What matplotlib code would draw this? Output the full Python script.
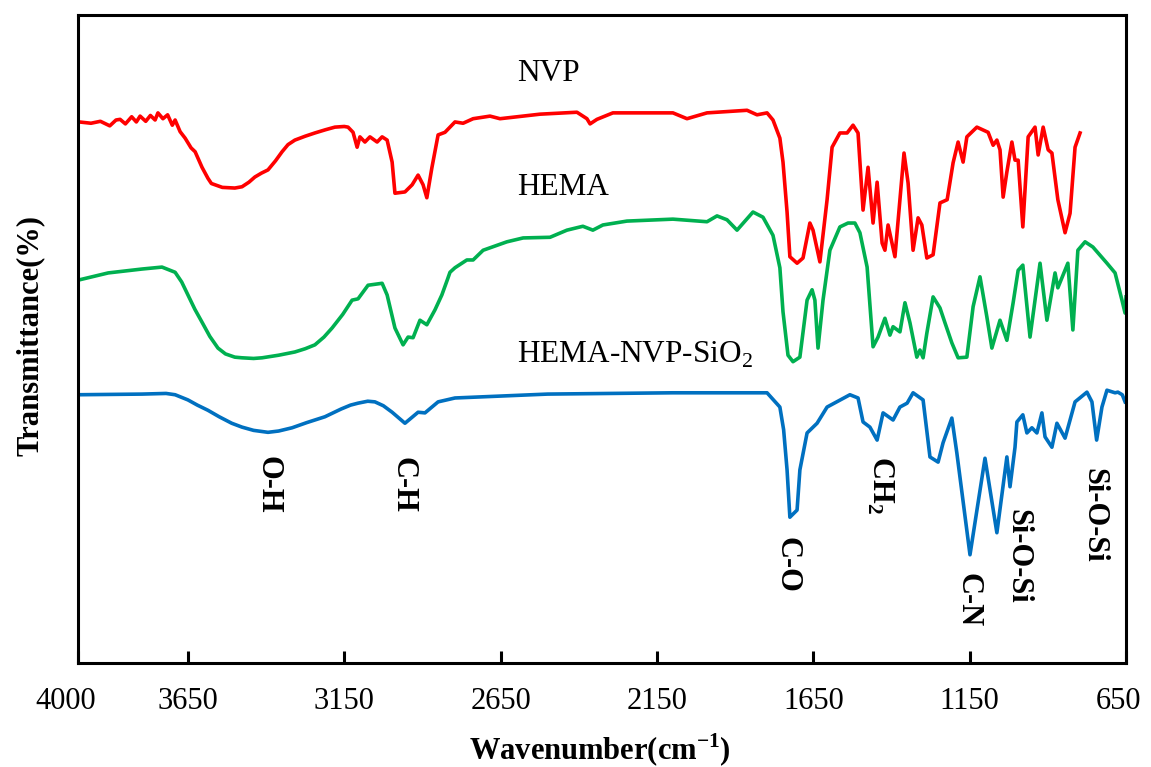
import matplotlib
matplotlib.use("Agg")
import matplotlib.pyplot as plt
import matplotlib.transforms as mtransforms

plt.rcParams['font.family'] = ['Liberation Serif', 'DejaVu Serif']
plt.rcParams['mathtext.fontset'] = 'custom'
plt.rcParams['mathtext.rm'] = 'Liberation Serif'
plt.rcParams['mathtext.bf'] = 'Liberation Serif:bold'
plt.rcParams['xtick.direction'] = 'in'
plt.rcParams['xtick.major.size'] = 9
plt.rcParams['xtick.major.width'] = 2.2
plt.rcParams['xtick.major.pad'] = 17
plt.rcParams['xtick.labelsize'] = 22

# FTIR spectra (wavenumber cm-1, transmittance %)
nvp_wn = [3998, 3960, 3930, 3900, 3880, 3867, 3850, 3830, 3815, 3803, 3785, 3770, 3755, 3746,
          3730, 3715, 3700, 3691, 3675, 3659, 3640, 3627, 3605, 3586, 3575, 3563, 3540, 3500,
          3477, 3455, 3436, 3415, 3394, 3370, 3349, 3330, 3308, 3275, 3244, 3210, 3180, 3150,
          3138, 3122, 3109, 3100, 3084, 3068, 3045, 3029, 3013,
          2997, 2988, 2956, 2933, 2914, 2898, 2886, 2870, 2850, 2828, 2796, 2770, 2738, 2684,
          2652, 2524, 2406, 2374, 2364, 2342, 2291, 2099, 2054, 1990, 1862, 1830, 1798, 1779,
          1757, 1747, 1734, 1725, 1702, 1683, 1661, 1651, 1629, 1606, 1590, 1565, 1542, 1523,
          1507, 1491, 1475, 1459, 1446, 1430, 1421, 1411, 1389, 1373, 1360, 1347, 1331, 1315,
          1303, 1287, 1267, 1245, 1222, 1203, 1187, 1171, 1159, 1127, 1091, 1075, 1063, 1053,
          1043, 1031, 1015, 1005, 995, 980, 963, 941, 931, 915, 899, 887, 868, 845, 829, 813, 797]
nvp_t = [83.5, 83.3, 83.6, 82.9, 83.8, 83.9, 83.2, 84.3, 83.5, 84.4, 83.6, 84.5, 83.8, 84.9,
         84.0, 84.6, 83.0, 83.8, 82.0, 81.0, 79.5, 78.9, 76.5, 74.8, 74.0, 73.8, 73.4, 73.3,
         73.5, 74.2, 75.0, 75.6, 76.1, 77.5, 78.9, 80.0, 80.7, 81.3, 81.8, 82.3, 82.7, 82.8,
         82.7, 81.9, 79.6, 81.2, 80.4, 81.2, 80.4, 81.2, 80.7,
         77.3, 72.5, 72.7, 73.8, 75.3, 73.8, 71.8, 76.4, 81.5, 81.9, 83.5, 83.3, 84.0, 84.4,
         84.0, 84.7, 85.0, 84.0, 83.2, 83.9, 84.9, 84.9, 84.0, 84.9, 85.3, 84.6, 84.9, 83.8,
         81.0, 77.3, 69.6, 62.7, 61.7, 62.5, 67.9, 66.8, 61.9, 71.5, 79.6, 81.8, 81.8, 83.0,
         81.8, 69.9, 76.5, 67.9, 74.2, 64.8, 63.7, 67.6, 62.7, 71.5, 78.7, 74.1, 63.7, 68.7,
         67.6, 62.5, 63.0, 71.0, 71.5, 77.2, 80.4, 77.3, 81.2, 82.7, 81.9, 79.9, 80.7, 79.2,
         71.9, 75.8, 80.4, 77.6, 77.6, 67.3, 81.2, 82.7, 78.4, 82.7, 79.2, 78.7, 71.5, 66.4,
         69.4, 79.6, 81.8]

hema_wn = [4000, 3905, 3797, 3733, 3691, 3670, 3650, 3628, 3605, 3580, 3554, 3530, 3500, 3477,
           3440, 3413, 3360, 3308, 3275, 3244, 3215, 3189, 3155, 3125,
           3106, 3074, 3029, 3013, 2988, 2962, 2946, 2930, 2908, 2886, 2860, 2838, 2820, 2812,
           2796, 2758, 2738, 2706, 2630, 2578, 2492, 2438, 2387, 2355, 2323, 2246, 2099, 1990,
           1958, 1926,
           1894, 1843, 1811, 1779, 1757, 1747, 1731, 1715, 1693, 1670, 1654, 1645, 1635, 1619,
           1597, 1565, 1539, 1517, 1501, 1478, 1459, 1443, 1421, 1405, 1395, 1373, 1357, 1341,
           1319, 1309, 1299, 1287, 1267, 1245, 1229, 1207, 1187, 1159, 1139, 1117, 1095, 1079,
           1053, 1031, 1011, 995, 980, 957, 925, 903, 877, 868, 836, 820, 804, 781, 756, 711,
           685, 663, 653, 650]
hema_t = [59.1, 60.2, 60.8, 61.1, 60.3, 58.8, 56.8, 54.6, 52.6, 50.4, 48.6, 47.7, 47.2, 47.1,
          47.0, 47.1, 47.5, 48.0, 48.5, 49.1, 50.3, 51.7, 53.8, 56.0,
          56.2, 58.3, 58.6, 56.8, 51.7, 49.1, 50.3, 50.2, 52.9, 52.2, 54.5, 56.8, 59.2, 60.3,
          61.0, 62.2, 62.2, 63.7, 65.0, 65.6, 65.7, 66.8, 67.4, 66.8, 67.6, 68.2, 68.5, 68.1,
          69.0, 68.4,
          66.8, 69.6, 68.8, 66.0, 61.0, 54.2, 47.5, 46.5, 47.2, 56.0, 57.6, 56.0, 48.6, 56.0,
          63.7, 67.3, 67.9, 67.9, 66.4, 61.1, 48.8, 50.3, 53.2, 50.6, 51.9, 51.1, 55.6, 52.5,
          47.2, 48.3, 47.1, 50.9, 56.5, 54.8, 52.5, 49.4, 47.1, 47.2, 55.0, 59.6, 53.4, 48.6,
          52.9, 49.8, 55.6, 60.6, 61.4, 50.3, 61.7, 52.9, 60.2, 57.9, 61.7, 51.4, 63.7, 65.0,
          64.2, 61.7, 60.2, 56.0, 54.0, 56.5]

comp_wn = [4000, 3797, 3720, 3691, 3650, 3620, 3586, 3550, 3510, 3477, 3440, 3394, 3360, 3317,
           3270, 3212, 3160, 3130, 3106, 3075, 3052, 3025, 2997, 2956, 2914, 2892,
           2850, 2796, 2500, 2100, 1853, 1798, 1757, 1745, 1734, 1725, 1702, 1693, 1670, 1638,
           1606, 1533, 1507, 1491, 1469, 1446, 1427, 1395, 1373, 1350, 1331, 1299, 1277, 1251,
           1235, 1207, 1191, 1149, 1101, 1063, 1031, 1021, 1005, 999, 980, 967, 951, 935, 919,
           909, 887, 871, 845, 813, 775, 759, 744, 727, 711, 685, 676, 662, 653]
comp_t = [41.4, 41.5, 41.6, 41.4, 40.6, 39.8, 39.0, 38.0, 37.0, 36.4, 35.9, 35.6, 35.8, 36.3,
          37.1, 38.0, 39.2, 39.8, 40.1, 40.4, 40.3, 39.7, 38.7, 37.0, 38.7, 38.6,
          40.3, 40.9, 41.5, 41.7, 41.7, 41.7, 39.5, 36.0, 29.8, 22.5, 23.6, 29.8, 35.5, 37.0,
          39.5, 41.4, 40.9, 37.2, 36.4, 34.4, 38.6, 37.5, 39.5, 40.1, 41.7, 40.6, 31.8, 31.0,
          34.0, 37.8, 32.4, 16.7, 31.6, 20.1, 31.8, 27.2, 33.3, 37.2, 38.3, 35.5, 36.3, 35.5, 38.6,
          34.9, 33.3, 37.0, 34.7, 40.3, 41.8, 40.3, 34.4, 39.5, 42.1, 41.7, 41.8, 41.4, 40.3]

xticks = [4000, 3650, 3150, 2650, 2150, 1650, 1150, 650]

series_names = ['NVP', 'HEMA', r'HEMA-NVP-SiO$_2$']
name_wn = [2598, 2598, 2598]
name_t = [89.8, 72.2, 46.3]

bands = ['O-H', 'C-H', 'C-O', r'CH$_\mathbf{2}$', 'C-N', 'Si-O-Si', 'Si-O-Si']
band_wn = [3394, 2962, 1734, 1437, 1155, 996, 752]
band_t = [27.5, 27.5, 15.1, 27.5, 9.7, 16.4, 22.8]

fig = plt.figure(figsize=(11.51, 7.67), dpi=100)
ax = fig.add_axes([0.0682, 0.1356, 0.9101, 0.8448])

lw = 2.6
ax.plot(nvp_wn, nvp_t, color='#FF0000', lw=lw, solid_joinstyle='round')
ax.plot(hema_wn, hema_t, color='#00B050', lw=lw, solid_joinstyle='round')
ax.plot(comp_wn, comp_t, color='#0070C0', lw=lw, solid_joinstyle='round')

ax.set_xlim(4000, 650)
ax.set_ylim(0, 100)
ax.set_xticks(xticks)
ax.set_xticklabels([str(v) for v in xticks])
ax.set_yticks([])
for s in ax.spines.values():
    s.set_linewidth(2.2)

labs = ax.get_xticklabels()
labs[0].set_transform(labs[0].get_transform() + mtransforms.ScaledTranslation(-13 / 100, 0, fig.dpi_scale_trans))
labs[-1].set_transform(labs[-1].get_transform() + mtransforms.ScaledTranslation(-8 / 100, 0, fig.dpi_scale_trans))

for name, x, y in zip(series_names, name_wn, name_t):
    ax.text(x, y, name, fontsize=22.5, ha='left', va='baseline')

for b, x, y in zip(bands, band_wn, band_t):
    ax.text(x, y, b, fontsize=22, fontweight='bold', rotation=270, ha='center', va='center')

fig.text(600 / 1151, 1 - 750 / 767, r'Wavenumber(cm$^{\mathbf{-1}}$)', fontsize=22,
         fontweight='bold', ha='center', va='center')
fig.text(30 / 1151, 1 - 335 / 767, 'Transmittance(%)', fontsize=22, fontweight='bold',
         rotation=90, ha='center', va='center')

fig.savefig('out.png', dpi=100)
